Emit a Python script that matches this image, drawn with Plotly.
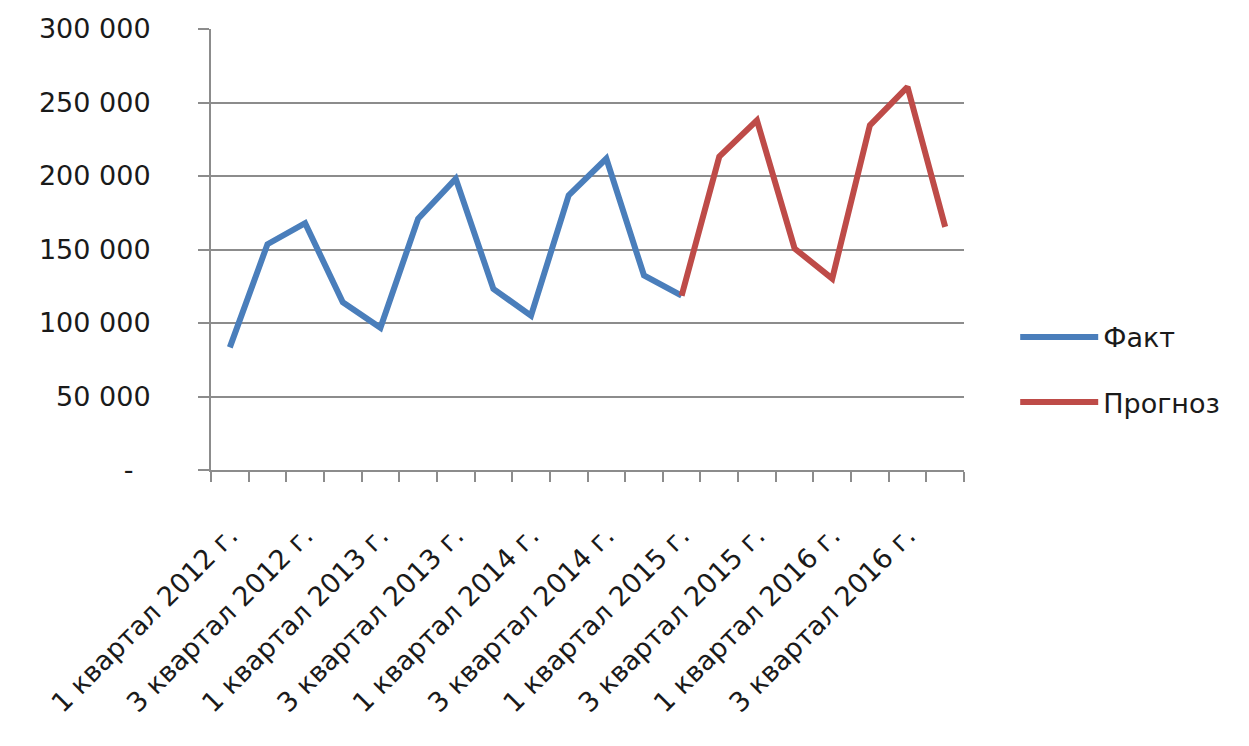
import plotly.graph_objects as go

quarters = [f"{q} квартал {y} г." for y in range(2012, 2017) for q in (1, 2, 3, 4)]

fact = [83400, 153600, 167900, 114100, 96700, 170900, 198200, 123200,
        105000, 186800, 211900, 132300, 118600]
forecast = [118600, 213200, 237900, 150700, 130200, 234500, 260600, 165400]

y_tickvals = [0, 50000, 100000, 150000, 200000, 250000, 300000]
y_ticktext = ["-\u00a0\u00a0", "50 000", "100 000", "150 000", "200 000", "250 000", "300 000"]

x_idx = list(range(len(quarters)))
fact_x = x_idx[:len(fact)]
fc_start = len(fact) - 1
fc_x = x_idx[fc_start:fc_start + len(forecast)]

FONT = "DejaVu Sans"
GRID = "#8c8c8c"
TXT = "#1a1a1a"

fig = go.Figure()
fig.add_trace(go.Scatter(x=fact_x, y=fact, mode="lines", name="Факт",
                         line=dict(color="#4A7EBB", width=6), legendgroup="a"))
fig.add_trace(go.Scatter(x=fc_x, y=forecast, mode="lines", name="Прогноз",
                         line=dict(color="#BE4B48", width=6), legendgroup="b"))

fig.update_layout(
    width=1249, height=746,
    margin=dict(l=211, r=285, t=29, b=276),
    paper_bgcolor="white", plot_bgcolor="white",
    font=dict(family=FONT, size=27, color=TXT),
    showlegend=True,
    legend=dict(x=1.068, y=0.227, xanchor="left", yanchor="middle",
                traceorder="grouped", tracegroupgap=27, itemwidth=78,
                font=dict(family=FONT, size=27, color=TXT)),
)
fig.update_xaxes(
    range=[-0.5, len(quarters) - 0.5],
    tickvals=x_idx[::2], ticktext=quarters[::2],
    tickangle=-45, ticks="", showgrid=False,
    showline=True, linecolor=GRID, linewidth=2,
    tickfont=dict(family=FONT, size=27, color=TXT),
    ticklabelstandoff=37,
    minor=dict(tickvals=[i - 0.5 for i in range(len(quarters) + 1)],
               ticks="outside", ticklen=10, tickwidth=2, tickcolor=GRID, showgrid=False),
    zeroline=False,
)
fig.update_yaxes(
    range=[0, 300000], tickvals=y_tickvals, ticktext=y_ticktext,
    showgrid=True, gridcolor=GRID, gridwidth=2,
    showline=True, linecolor=GRID, linewidth=2,
    ticks="outside", ticklen=11, tickwidth=2, tickcolor=GRID,
    ticklabelstandoff=42,
    tickfont=dict(family=FONT, size=27, color=TXT),
    zeroline=False,
)

fig.write_html("out.html")
